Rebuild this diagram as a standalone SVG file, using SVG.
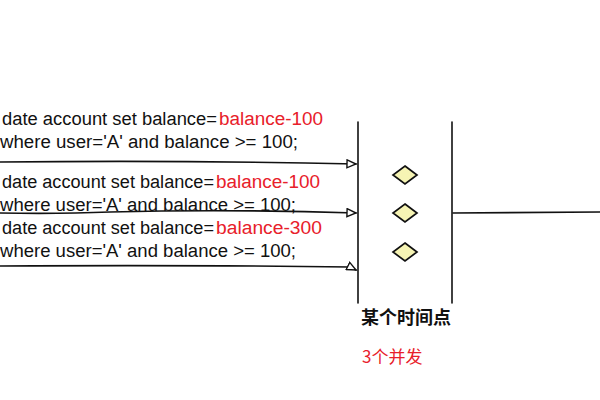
<svg xmlns="http://www.w3.org/2000/svg" width="600" height="400" viewBox="0 0 600 400">
<defs>
<style>
.sql{font-family:"Liberation Sans","DejaVu Sans",sans-serif;font-size:18px;fill:#111}
.red{fill:#e8202a}
.ln{stroke:#111;stroke-width:1.6;fill:none;stroke-linecap:round}
.dia{fill:#f6f4b4;stroke:#111;stroke-width:1.7}
.lbl{font-family:"Noto Sans CJK SC",sans-serif;font-size:18px;font-weight:bold;fill:#111}
.lblr{font-family:"Noto Sans CJK SC",sans-serif;font-size:17px;fill:#e8202a}
</style>
<marker id="ah" markerWidth="12" markerHeight="10" refX="10" refY="5" orient="auto" markerUnits="userSpaceOnUse">
<path d="M1,1 L10,5 L1,9 Z" fill="#fff" stroke="#111" stroke-width="1.4"/>
</marker>
</defs>
<rect width="600" height="400" fill="#fff"/>
<g id="sql1">
<text class="sql" x="2" y="125" textLength="215" lengthAdjust="spacingAndGlyphs">date account set balance=</text>
<text class="sql red" x="219" y="125" textLength="104" lengthAdjust="spacingAndGlyphs">balance-100</text>
<text class="sql" x="0" y="148" textLength="298" lengthAdjust="spacingAndGlyphs">where user='A' and balance &gt;= 100;</text>
</g>
<g id="sql2">
<text class="sql" x="2" y="188" textLength="212" lengthAdjust="spacingAndGlyphs">date account set balance=</text>
<text class="sql red" x="216" y="188" textLength="104" lengthAdjust="spacingAndGlyphs">balance-100</text>
<text class="sql" x="0" y="211" textLength="296" lengthAdjust="spacingAndGlyphs">where user='A' and balance &gt;= 100;</text>
</g>
<g id="sql3">
<text class="sql" x="2" y="234" textLength="212" lengthAdjust="spacingAndGlyphs">date account set balance=</text>
<text class="sql red" x="216" y="234" textLength="106" lengthAdjust="spacingAndGlyphs">balance-300</text>
<text class="sql" x="0" y="257" textLength="296" lengthAdjust="spacingAndGlyphs">where user='A' and balance &gt;= 100;</text>
</g>
<g id="timeline-left"><path class="ln" d="M358,122 L358,303"/></g>
<g id="timeline-right"><path class="ln" d="M452,122 L452,303"/></g>
<g id="diamonds">
<path class="dia" d="M405,166 L417,175 L405,184 L393,175 Z"/>
<path class="dia" d="M405,204 L417,213 L405,222 L393,213 Z"/>
<path class="dia" d="M405,243 L417,252 L405,261 L393,252 Z"/>
</g>
<g id="connectors">
<path class="ln" d="M0,162 Q180,160 356,164" marker-end="url(#ah)"/>
<path class="ln" d="M0,213 Q60,214 110,212 Q230,209 356,213" marker-end="url(#ah)"/>
<path class="ln" d="M0,266 Q200,265 350,267 L356,270" marker-end="url(#ah)"/>
<path class="ln" d="M453,213 L600,212"/>
</g>
<g id="labels">
<text class="lbl" x="361" y="324">某个时间点</text>
<text class="lblr" x="362" y="363">3个并发</text>
</g>
</svg>
